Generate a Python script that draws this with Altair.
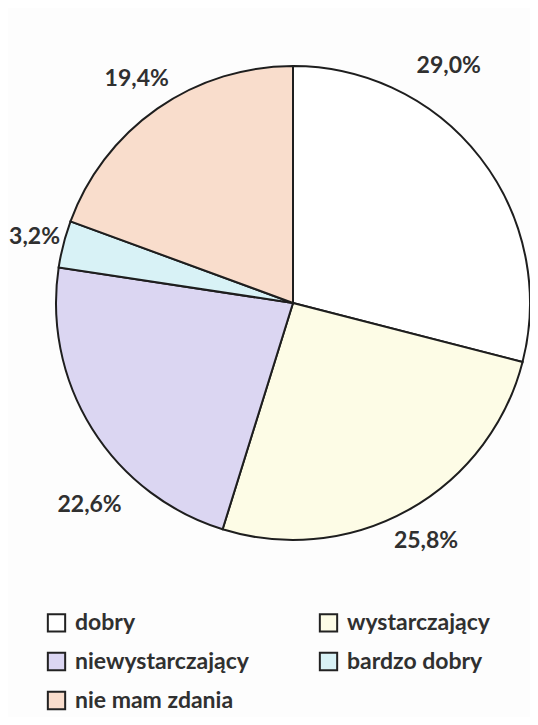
import altair as alt
import pandas as pd

categories = ["dobry", "wystarczający", "niewystarczający", "bardzo dobry", "nie mam zdania"]
values = [29.0, 25.8, 22.6, 3.2, 19.4]
labels = ["29,0%", "25,8%", "22,6%", "3,2%", "19,4%"]
colors = ["#ffffff", "#fdfce6", "#dbd6f2", "#d8f2f6", "#f9ddcc"]
legend_order = ["dobry", "niewystarczający", "nie mam zdania", "wystarczający", "bardzo dobry"]

df = pd.DataFrame({"cat": categories, "value": values, "label": labels, "idx": list(range(len(categories)))})

W, H = 522, 709
cx, cy, R = 285, 295, 237
theta_scale = alt.Scale(domain=[0, 100])
FONT = "Lato"
TXT = "#303030"

arc = alt.Chart(df).mark_arc(radius=R, stroke="#1e1e1e", strokeWidth=2).encode(
    theta=alt.Theta("value:Q", stack=True, scale=theta_scale),
    color=alt.Color(
        "cat:N",
        scale=alt.Scale(domain=categories, range=colors),
        legend=alt.Legend(
            title=None, orient="none", legendX=37, legendY=603, columns=2,
            values=legend_order,
            symbolType="square", symbolSize=300, symbolStrokeColor="#222",
            symbolStrokeWidth=2, labelFont=FONT, labelFontSize=23,
            labelFontWeight="bold", labelColor=TXT, columnPadding=66,
            rowPadding=12, labelOffset=7, labelLimit=400,
        ),
    ),
    order=alt.Order("idx:Q"),
    x=alt.value(cx),
    y=alt.value(cy),
)

base = alt.Chart(df).transform_window(
    cum="sum(value)", sort=[alt.SortField("idx")]
).transform_calculate(mid="datum.cum - datum.value / 2")


def text_layer(filt, dx=0, dy=0):
    return base.transform_filter(filt).mark_text(
        radius=273, font=FONT, fontWeight="bold", fontSize=23, color=TXT,
        dx=dx, dy=dy,
    ).encode(
        theta=alt.Theta("mid:Q", stack=None, scale=theta_scale),
        text="label:N",
        x=alt.value(cx),
        y=alt.value(cy),
    )


t_main = text_layer("datum.idx == 1 || datum.idx == 4")
t_first = text_layer("datum.idx == 0", dx=-60, dy=-70)
t_third = text_layer("datum.idx == 2", dx=28, dy=57)
t_fourth = text_layer("datum.idx == 3", dx=6, dy=2)

chart = alt.layer(arc, t_main, t_first, t_third, t_fourth).properties(
    width=W, height=H, autosize=alt.AutoSizeParams(type="none"), padding=0,
    background="#fdfdfd",
).configure_view(stroke=None)

chart.save("out.html", embed_options={"renderer": "svg", "actions": False})
